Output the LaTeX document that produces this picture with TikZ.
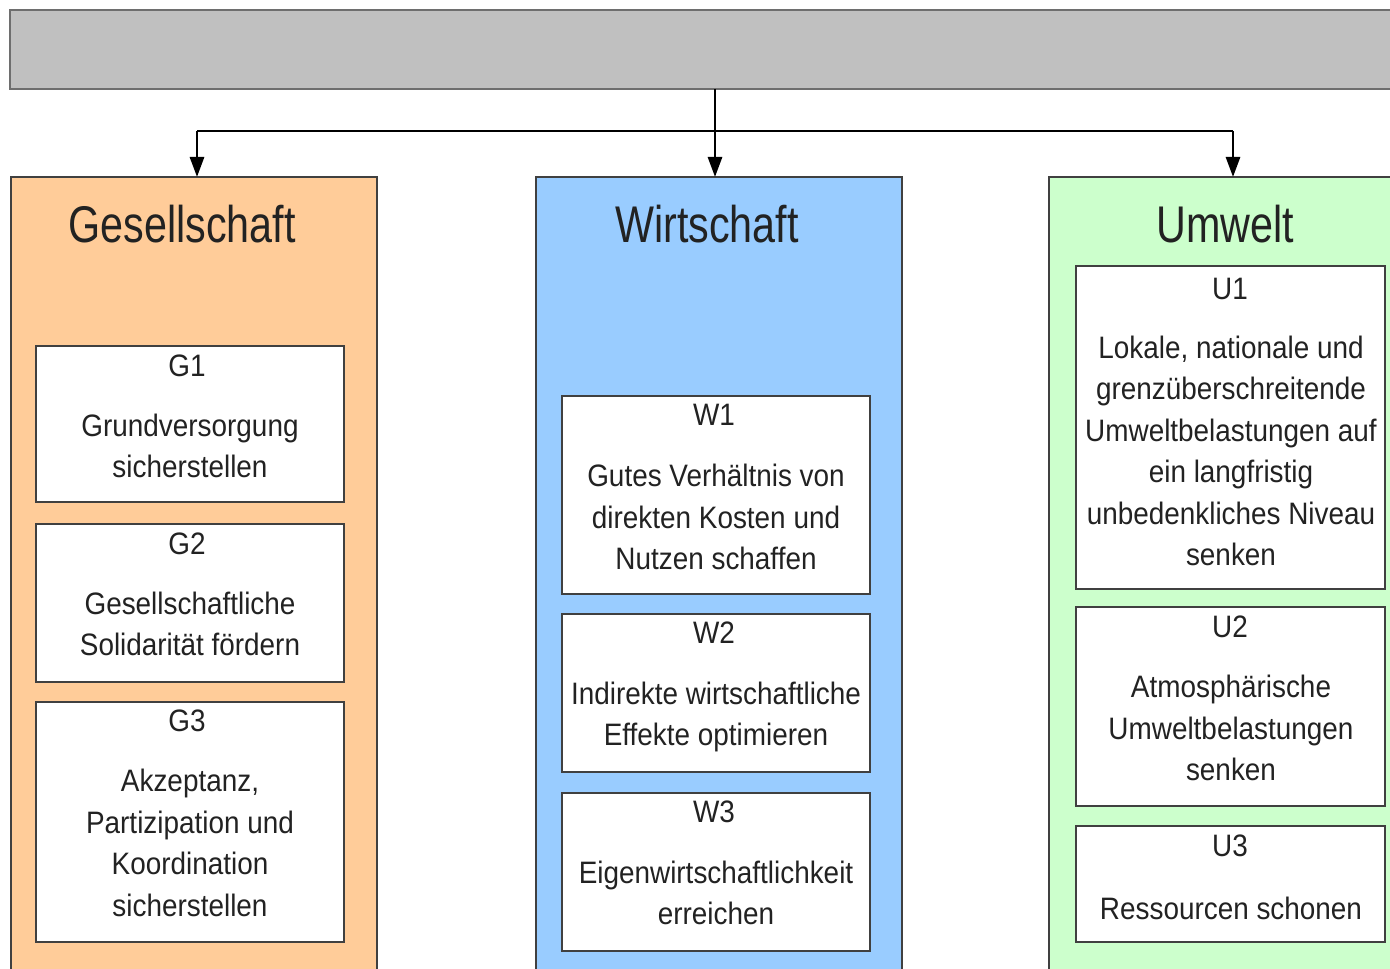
\documentclass[tikz,border=0pt]{standalone}
\usepackage{fontspec}
\newfontfamily\bodyfont{Liberation Sans}[FakeStretch=0.9]
\newfontfamily\titlefont{Liberation Sans}[FakeStretch=0.8]
\usetikzlibrary{fit,arrows.meta}
\definecolor{barfill}{HTML}{C0C0C0}
\definecolor{barline}{HTML}{6E6E6E}
\definecolor{gefill}{HTML}{FFCC99}
\definecolor{wifill}{HTML}{99CCFF}
\definecolor{umfill}{HTML}{CCFFCC}
\definecolor{edge}{HTML}{404040}
\definecolor{ink}{HTML}{222222}
\begin{document}
\begin{tikzpicture}[x=0.5pt,y=-0.5pt,
  topbar/.style={draw=barline, line width=1pt, fill=barfill, inner sep=0pt},
  panel/.style={draw=edge, line width=0.8pt, inner sep=0pt},
  goalbox/.style={draw=edge, line width=1pt, fill=white, inner sep=0pt},
  title/.style={text=ink, inner sep=0pt, font=\titlefont\fontsize{25.8}{30}\selectfont},
  tag/.style={text=ink, inner sep=0pt, font=\bodyfont\fontsize{15.5}{20.75}\selectfont},
  body/.style={text=ink, inner sep=0pt, align=center, font=\bodyfont\fontsize{15.5}{20.75}\selectfont},
  conn/.style={draw=black, line width=1.4pt},
  arr/.style={conn, -{Triangle[length=10pt,width=7pt]}}]
\useasboundingbox (0,0) rectangle (1390,968);
\clip (0,0) rectangle (1390,968);

% top bar
\node[topbar, fit={(10,10) (1420,89)}] (bar) {};

% panels
\node[panel, fill=gefill, fit={(11,177) (377,1010)}] (ge) {};
\node[panel, fill=wifill, fit={(536,177) (902,1010)}] (wi) {};
\node[panel, fill=umfill, fit={(1049,177) (1415,1010)}] (um) {};

% titles
\node[title] (geT) at (182,224) {Gesellschaft};
\node[title] (wiT) at (707,224) {Wirtschaft};
\node[title] (umT) at (1225,224) {Umwelt};

% connectors
\coordinate (j) at (715,131);
\coordinate (top) at (715,89);
\draw[conn] (top) -- (j);
\draw[conn] (197,131) coordinate (jl) -- (1233,131) coordinate (jr);
\coordinate (geIn) at (197,177);
\coordinate (wiIn) at (715,177);
\coordinate (umIn) at (1233,177);
\draw[arr] (jl) -- (geIn);
\draw[arr] (j) -- (wiIn);
\draw[arr] (jr) -- (umIn);

% Gesellschaft boxes
\node[goalbox, fit={(36,346) (344,502)}] (g1) {};
\node[tag] (g1t) at (187,366) {G1};
\node[body] (g1b) at (190,446) {Grundversorgung\\sicherstellen};

\node[goalbox, fit={(36,524) (344,682)}] (g2) {};
\node[tag] (g2t) at (187,544) {G2};
\node[body] (g2b) at (190,624) {Gesellschaftliche\\Solidarität fördern};

\node[goalbox, fit={(36,702) (344,942)}] (g3) {};
\node[tag] (g3t) at (187,721) {G3};
\node[body] (g3b) at (190,843) {Akzeptanz,\\Partizipation und\\Koordination\\sicherstellen};

% Wirtschaft boxes
\node[goalbox, fit={(562,396) (870,594)}] (w1) {};
\node[tag] (w1t) at (714,415) {W1};
\node[body] (w1b) at (716,517) {Gutes Verhältnis von\\direkten Kosten und\\Nutzen schaffen};

\node[goalbox, fit={(562,614) (870,772)}] (w2) {};
\node[tag] (w2t) at (714,633) {W2};
\node[body] (w2b) at (716,717) {Indirekte wirtschaftliche\\Effekte optimieren};

\node[goalbox, fit={(562,793) (870,951)}] (w3) {};
\node[tag] (w3t) at (714,812) {W3};
\node[body] (w3b) at (716,893) {Eigenwirtschaftlichkeit\\erreichen};

% Umwelt boxes
\node[goalbox, fit={(1076,266) (1385,589)}] (u1) {};
\node[tag] (u1t) at (1230,289) {U1};
\node[body] (u1b) at (1231,451) {Lokale, nationale und\\grenzüberschreitende\\Umweltbelastungen auf\\ein langfristig\\unbedenkliches Niveau\\senken};

\node[goalbox, fit={(1076,607) (1385,806)}] (u2) {};
\node[tag] (u2t) at (1230,627) {U2};
\node[body] (u2b) at (1231,728) {Atmosphärische\\Umweltbelastungen\\senken};

\node[goalbox, fit={(1076,826) (1385,942)}] (u3) {};
\node[tag] (u3t) at (1230,846) {U3};
\node[body] (u3b) at (1231,908) {Ressourcen schonen};
\end{tikzpicture}
\end{document}
